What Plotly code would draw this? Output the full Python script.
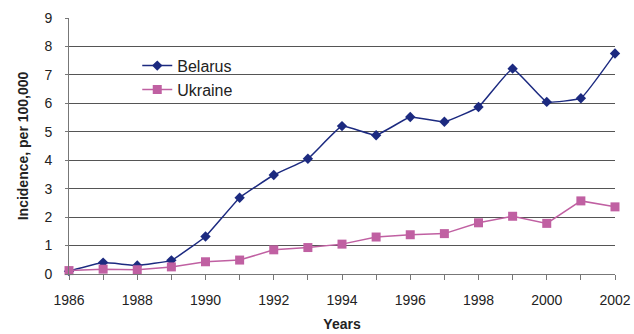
import plotly.graph_objects as go

years = list(range(1986, 2003))
belarus = [0.1, 0.4, 0.3, 0.48, 1.32, 2.68, 3.48, 4.05, 5.2, 4.88, 5.52, 5.35, 5.87, 7.22, 6.05, 6.18, 7.75]
ukraine = [0.12, 0.17, 0.15, 0.25, 0.43, 0.49, 0.85, 0.93, 1.05, 1.3, 1.38, 1.42, 1.8, 2.03, 1.78, 2.57, 2.36]
x_tick_years = list(range(1986, 2003, 2))
y_ticks = list(range(0, 10))

navy = "#1c2a80"
pink = "#c060a2"

fig = go.Figure()
fig.add_trace(go.Scatter(
    x=years, y=belarus, name="Belarus", mode="lines+markers",
    line=dict(color=navy, width=1.5, shape="spline", smoothing=0.3),
    marker=dict(symbol="diamond", size=8, color=navy),
    cliponaxis=False,
))
fig.add_trace(go.Scatter(
    x=years, y=ukraine, name="Ukraine", mode="lines+markers",
    line=dict(color=pink, width=1.5),
    marker=dict(symbol="square", size=9, color=pink),
    cliponaxis=False,
))

font_family = "Liberation Sans, Arial, sans-serif"
fig.update_layout(
    width=634, height=334,
    margin=dict(l=69, r=19, t=18, b=60),
    paper_bgcolor="white", plot_bgcolor="white",
    font=dict(family=font_family, size=14, color="#222"),
    showlegend=True,
    legend=dict(x=0.125, y=0.88, xanchor="left", yanchor="top",
                bgcolor="rgba(0,0,0,0)", font=dict(size=16, color="#222"),
                tracegroupgap=0, itemsizing="trace"),
    xaxis=dict(
        range=[1986, 2002], tickvals=x_tick_years, ticktext=[str(y) for y in x_tick_years],
        showgrid=False, zeroline=False, automargin=False,
        showline=True, linecolor="#777", linewidth=1,
        ticks="outside", ticklen=5, tickcolor="#777", ticklabelstandoff=8,
        minor=dict(dtick=1, tick0=1986, ticks="outside", ticklen=5, tickcolor="#777", showgrid=False),
        title=dict(text="<b>Years</b>", font=dict(size=14, color="#222"), standoff=12),
    ),
    yaxis=dict(
        range=[0, 9], tickvals=y_ticks, automargin=False,
        showgrid=True, gridcolor="#555", gridwidth=1, zeroline=False,
        showline=True, linecolor="#777", linewidth=1,
        ticks="outside", ticklen=3, tickcolor="#777", ticklabelstandoff=10,
        title=dict(text="<b>Incidence, per 100,000</b>", font=dict(size=14, color="#222"), standoff=12),
    ),
)

fig.write_html("out.html")
